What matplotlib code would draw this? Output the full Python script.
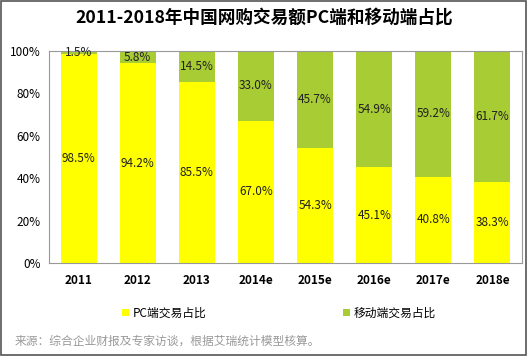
import matplotlib
matplotlib.use("Agg")
import matplotlib.pyplot as plt
from matplotlib.patches import Rectangle

plt.rcParams['font.family'] = ['Noto Sans CJK SC', 'DejaVu Sans']

years = ["2011", "2012", "2013", "2014e", "2015e", "2016e", "2017e", "2018e"]
pc_share = [98.5, 94.2, 85.5, 67.0, 54.3, 45.1, 40.8, 38.3]
mobile_share = [1.5, 5.8, 14.5, 33.0, 45.7, 54.9, 59.2, 61.7]

yellow = "#FFFF00"
green = "#A8CC34"

fig = plt.figure(figsize=(5.28, 3.56), dpi=100)
# outer border
fig.patches.append(Rectangle((0.002, 0.003), 0.995, 0.993, transform=fig.transFigure,
                             fill=False, edgecolor="#555555", linewidth=1.2))

ax = fig.add_axes([49 / 528, 1 - 263 / 356, 473 / 528, 212 / 356])
x = range(len(years))
ax.bar(x, pc_share, width=0.61, color=yellow, label="PC端交易占比")
ax.bar(x, mobile_share, width=0.61, bottom=pc_share, color=green, label="移动端交易占比")

for i in x:
    ax.text(i, pc_share[i] / 2, f"{pc_share[i]:.1f}%", ha="center", va="center", fontsize=8.5, color="#222222")
    ax.text(i, pc_share[i] + mobile_share[i] / 2, f"{mobile_share[i]:.1f}%", ha="center", va="center",
            fontsize=8.5, color="#222222")

ax.set_xlim(-0.5, len(years) - 0.5)
ax.set_ylim(0, 100)
ax.set_yticks([0, 20, 40, 60, 80, 100])
ax.set_yticklabels([f"{v}%" for v in [0, 20, 40, 60, 80, 100]], fontsize=8.5)
ax.set_xticks(list(x))
ax.set_xticklabels(years, fontsize=8.5, fontweight="bold")
ax.tick_params(length=0, pad=8)
ax.tick_params(axis="y", pad=6)
for s in ax.spines.values():
    s.set_color("#999999")
    s.set_linewidth(0.8)

fig.text(0.5, 1 - 18 / 356, "2011-2018年中国网购交易额PC端和移动端占比", ha="center", va="center",
         fontsize=12.7, fontweight="bold")

fig.legend(loc="center", bbox_to_anchor=(0.528, 1 - 313 / 356), ncol=2, frameon=False, fontsize=8.5,
           handlelength=0.6, handleheight=0.6, columnspacing=11.6, handletextpad=0.3)

fig.text(15 / 528, 1 - 341 / 356, "来源：综合企业财报及专家访谈，根据艾瑞统计模型核算。", ha="left", va="center",
         fontsize=8.5, color="#999999")

fig.savefig("out.png", dpi=100)
